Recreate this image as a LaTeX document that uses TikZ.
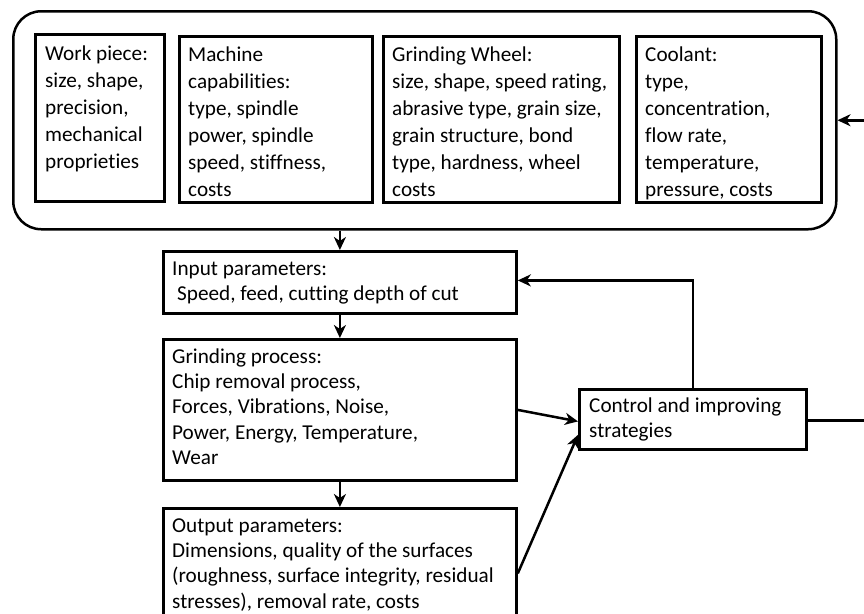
\documentclass[tikz,border=0pt]{standalone}
\usepackage{fontspec}
\setmainfont{Carlito}[Ligatures=NoCommon]
\usetikzlibrary{arrows.meta}
\newcommand\firstln{\rule{0pt}{16pt}}
\tikzset{
  bx/.style={draw=black, line width=2.8pt, rectangle, anchor=north west, inner sep=0pt},
  outerbox/.style={draw=black, line width=2.5pt, rectangle, rounded corners=28pt, anchor=north west, inner sep=0pt},
  txt/.style={anchor=north west, align=left, inner sep=0pt, font=\fontsize{21.2}{27}\selectfont},
  txtb/.style={anchor=north west, align=left, inner sep=0pt, font=\fontsize{21.2}{25.3}\selectfont},
  arr/.style={draw=black, line width=2.5pt, -{Stealth[length=13pt,width=12pt,inset=4pt]}}
}
\begin{document}
\begin{tikzpicture}[x=1pt,y=-1pt]
\useasboundingbox (0,0) rectangle (864,613);
\clip (0,0) rectangle (864,613);
% outer group
\node[outerbox, minimum width=823pt, minimum height=218pt] (top) at (12,10) {};
\node[bx, minimum width=129pt, minimum height=167pt] (wp) at (34,33) {};
\node[bx, minimum width=193pt, minimum height=166pt] (mc) at (178,35) {};
\node[bx, minimum width=236pt, minimum height=166pt] (gw) at (382,35) {};
\node[bx, minimum width=185pt, minimum height=166pt] (cl) at (635,35) {};
\node[txt] (wpt) at (45,44) {\firstln Work piece:\\size, shape,\\precision,\\mechanical\\proprieties};
\node[txt] (mct) at (188,45) {\firstln Machine\\capabilities:\\type, spindle\\power, spindle\\speed, stiffness,\\costs};
\node[txt] (gwt) at (392,45) {\firstln Grinding Wheel:\\size, shape, speed rating,\\abrasive type, grain size,\\grain structure, bond\\type, hardness, wheel\\costs};
\node[txt] (clt) at (645,45) {\firstln Coolant:\\type,\\concentration,\\flow rate,\\temperature,\\pressure, costs};
% main column
\node[bx, minimum width=353pt, minimum height=62pt] (inp) at (162,250) {};
\node[txtb] (inpt) at (172,259) {\firstln Input parameters:\\\hspace{5pt}Speed, feed, cutting depth of cut};
\node[bx, minimum width=353pt, minimum height=141pt] (gr) at (162,338) {};
\node[txtb] (grt) at (172,347) {\firstln Grinding process:\\Chip removal process,\\Forces, Vibrations, Noise,\\Power, Energy, Temperature,\\Wear};
\node[bx, minimum width=353pt, minimum height=120pt] (out) at (162,507) {};
\node[txtb] (outt) at (172,516) {\firstln Output parameters:\\Dimensions, quality of the surfaces\\(roughness, surface integrity, residual\\stresses), removal rate, costs};
\node[bx, minimum width=227pt, minimum height=60pt] (ctrl) at (578,388) {};
\node[txtb] (ctrlt) at (589,396) {\firstln Control and improving\\strategies};
% connectors
\coordinate (rc) at (872,0);
\draw[arr] (top.south -| inp.north) -- (inp.north);
\draw[arr] (inp.south) -- (gr.north);
\draw[arr] (gr.south) -- (out.north);
\draw[arr] (gr.east) -- ([yshift=-2pt]ctrl.west);
\draw[arr] ([yshift=-5pt]out.east) -- ([yshift=16pt]ctrl.south west);
\draw[arr] (ctrl.north) |- ([yshift=2pt]inp.east);
\draw[arr] ([yshift=-1pt]ctrl.east) -- ([yshift=-1pt]ctrl.east -| rc) |- (top.east);
\end{tikzpicture}
\end{document}
